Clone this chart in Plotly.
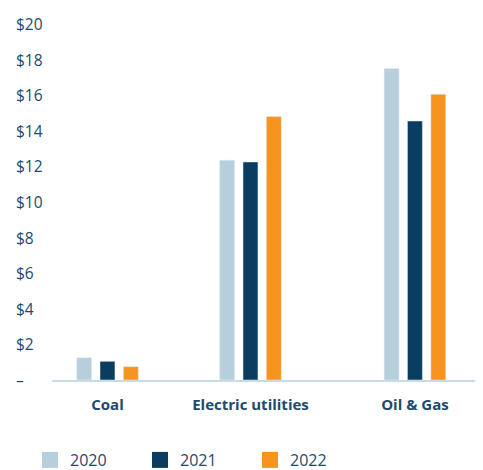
import plotly.graph_objects as go

categories = ["Coal", "Electric utilities", "Oil & Gas"]
years = ["2020", "2021", "2022"]
values_2020 = [1.25, 12.35, 17.5]
values_2021 = [1.05, 12.25, 14.55]
values_2022 = [0.75, 14.8, 16.05]
tick_values = [0, 2, 4, 6, 8, 10, 12, 14, 16, 18, 20]
tick_labels = ["–", "$2", "$4", "$6", "$8", "$10", "$12", "$14", "$16", "$18", "$20"]

# groups are not evenly spaced in the original
group_pos = [0, 1, 2.15]

colors = ["#b7cfdc", "#0a3d5f", "#f7941d"]
text_color = "#1c4a6c"
font_family = "Open Sans, Noto Sans, sans-serif"

fig = go.Figure()
for year, vals, col in zip(years, [values_2020, values_2021, values_2022], colors):
    fig.add_trace(go.Bar(x=group_pos, y=vals, name=year, marker=dict(color=col),
                         showlegend=False))
    # legend entries with bigger square swatches
    fig.add_trace(go.Scatter(x=[None], y=[None], mode="markers", name=year,
                             marker=dict(symbol="square", size=16, color=col)))

for v, lab in zip(tick_values, tick_labels):
    fig.add_annotation(x=0, xref="paper", y=v, yref="y", text=lab, showarrow=False,
                       xanchor="left", yanchor="middle", xshift=-2,
                       font=dict(family=font_family, size=15.5, color=text_color))

# the page body adds an 8px margin, so the figure is 8px smaller than the window
fig.update_layout(
    width=475, height=462,
    margin=dict(l=8, r=0, t=16, b=90, autoexpand=False),
    paper_bgcolor="white", plot_bgcolor="white",
    barmode="group", bargap=0.51, bargroupgap=0.36,
    font=dict(family=font_family, color=text_color),
    legend=dict(orientation="h", x=22 / 475, xref="container", xanchor="left",
                y=10 / 462, yref="container", yanchor="middle",
                font=dict(size=16, color=text_color), entrywidth=65,
                itemclick=False),
    xaxis=dict(domain=[36 / 467, 1], range=[-0.388, 2.626], automargin=False,
               tickvals=group_pos, ticktext=categories, showgrid=False,
               zeroline=False, showline=True, linecolor="#c8dbe4", linewidth=2,
               ticks="", ticklabelstandoff=10,
               tickfont=dict(size=15, color=text_color,
                             family=font_family, weight="bold")),
    yaxis=dict(range=[0, 20], showgrid=False, zeroline=False, showticklabels=False,
               ticks="", automargin=False),
)

fig.write_html("out.html")
